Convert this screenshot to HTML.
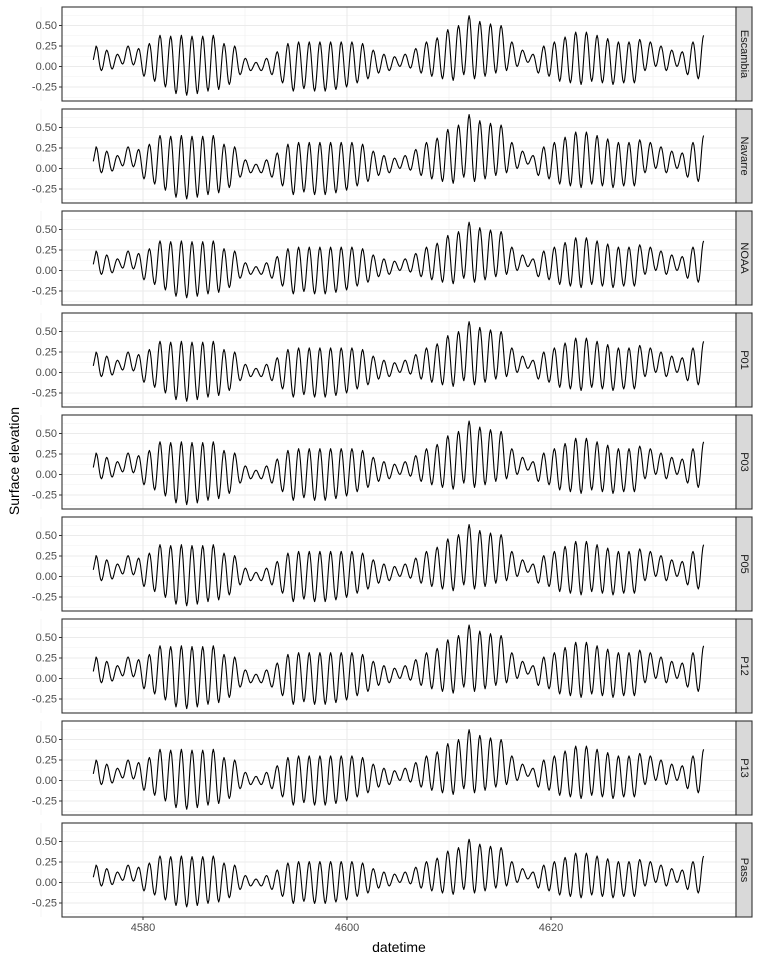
<!DOCTYPE html>
<html><head><meta charset="utf-8">
<style>
html,body{margin:0;padding:0;background:#fff;}
svg{display:block;font-family:"Liberation Sans",Arial,sans-serif;}
</style></head>
<body>
<svg id="chart" width="768" height="960" viewBox="0 0 768 960"></svg>
<script>
const stations = ["Escambia","Navarre","NOAA","P01","P03","P05","P12","P13","Pass"];
const stationScale = [1.0,1.06,0.95,1.0,1.05,1.02,1.05,1.0,0.85];
const cycleStart = 4575.4;
const cyclePeriod = 1.045;
const highs = [0.25,0.2,0.15,0.25,0.22,0.28,0.38,0.37,0.38,0.37,0.37,0.38,0.28,0.25,0.1,0.05,0.1,0.18,0.28,0.3,0.3,0.3,0.3,0.3,0.3,0.28,0.2,0.15,0.12,0.15,0.22,0.3,0.35,0.45,0.5,0.62,0.55,0.52,0.5,0.3,0.2,0.15,0.25,0.3,0.36,0.42,0.42,0.38,0.34,0.3,0.3,0.33,0.3,0.25,0.2,0.18,0.3,0.38];
const lows = [-0.05,-0.03,0.03,0.02,-0.12,-0.18,-0.25,-0.33,-0.35,-0.33,-0.3,-0.28,-0.22,-0.1,-0.05,-0.05,-0.1,-0.2,-0.3,-0.27,-0.3,-0.3,-0.28,-0.25,-0.2,-0.15,-0.08,-0.05,0,-0.02,-0.08,-0.12,-0.15,-0.17,-0.1,-0.15,-0.12,-0.08,-0.05,0,0.05,-0.08,-0.12,-0.18,-0.2,-0.22,-0.18,-0.2,-0.22,-0.2,-0.2,-0.05,0,-0.05,0,-0.1,-0.15];
const xTicks = [4580,4600,4620];
const xMinor = [4570,4590,4610,4630];
const yTicks = [-0.25,0,0.25,0.5];
const yTickLabels = ["-0.25","0.00","0.25","0.50"];
const yMinor = [-0.375,-0.125,0.125,0.375,0.625];

const NS="http://www.w3.org/2000/svg";
const svg=document.getElementById('chart');
const L=62,R=736,PH=94,TOP0=7,STEP=102;
function xs(d){return 143+(d-4580)*10.2;}
function ys(v,i){return TOP0+STEP*i+59.5-v*82;}
function mk(tag,attrs,parent){const e=document.createElementNS(NS,tag);for(const k in attrs)e.setAttribute(k,attrs[k]);(parent||svg).appendChild(e);return e;}

stations.forEach((st,i)=>{
  const top=TOP0+STEP*i;
  const g=mk('g',{});
  
  
  mk('rect',{x:L,y:top,width:R-L,height:PH,fill:'#fff'},g);
  yMinor.forEach(v=>{const y=ys(v,i);if(y>top&&y<top+PH)mk('line',{x1:L,x2:R,y1:y,y2:y,stroke:'#f0f0f0','stroke-width':0.6},g);});
  xMinor.forEach(d=>mk('line',{x1:xs(d),x2:xs(d),y1:top,y2:top+PH,stroke:'#f0f0f0','stroke-width':0.6},g));
  yTicks.forEach((v,k)=>{const y=ys(v,i);
    mk('line',{x1:L,x2:R,y1:y,y2:y,stroke:'#ebebeb','stroke-width':1.1},g);
    mk('line',{x1:L-3,x2:L,y1:y,y2:y,stroke:'#333','stroke-width':1},g);
    const t=mk('text',{x:L-5,y:y+3.5,'text-anchor':'end','font-size':11,fill:'#4d4d4d'},g);
    t.textContent=yTickLabels[k];
    
    
  });
  xTicks.forEach(d=>mk('line',{x1:xs(d),x2:xs(d),y1:top,y2:top+PH,stroke:'#ebebeb','stroke-width':1.1},g));
  const s=stationScale[i];
  let pts=[];
  for(let c=0;c<highs.length;c++){
    const tH=cycleStart+c*cyclePeriod;
    const h=highs[c]*s;
    if(c===0){const l0=lows[0]*s;pts.push([tH-0.5*cyclePeriod+0.25,(l0+h)/2-0.02]);}
    const l=c<lows.length?lows[c]*s:null;
    const steps=6;
    for(let k=0;k<steps;k++){
      const f=k/steps;
      if(l===null){ if(k>0)break; }
      const v=l===null?h:(h+l)/2+(h-l)/2*Math.cos(Math.PI*f);
      pts.push([tH+f*cyclePeriod/2,v]);
    }
    if(l!==null){
      const hn=c+1<highs.length?highs[c+1]*s:h;
      for(let k=0;k<steps;k++){
        const f=k/steps;
        const v=(hn+l)/2-(hn-l)/2*Math.cos(Math.PI*f);
        pts.push([tH+cyclePeriod/2+f*cyclePeriod/2,v]);
      }
    }
  }
  const path=mk('polyline',{points:pts.map(p=>xs(p[0]).toFixed(1)+','+ys(p[1],i).toFixed(1)).join(' '),fill:'none',stroke:'#000','stroke-width':1.1,'stroke-linejoin':'round'},g);
  
  
  mk('rect',{x:L,y:top,width:R-L,height:PH,fill:'none',stroke:'#333','stroke-width':1.1},g);
  const strip=mk('rect',{x:R,y:top,width:16,height:PH,fill:'#d9d9d9',stroke:'#333','stroke-width':1.1},g);
  
  
  const cx=R+8,cy=top+PH/2;
  const lab=mk('text',{x:cx,y:cy,'text-anchor':'middle','dominant-baseline':'central','font-size':11,fill:'#1a1a1a',transform:`rotate(90 ${cx} ${cy})`},g);
  lab.textContent=st;
  
  
});
const bottom=TOP0+STEP*8+PH;
xTicks.forEach(d=>{
  mk('line',{x1:xs(d),x2:xs(d),y1:bottom,y2:bottom+3,stroke:'#333','stroke-width':1});
  const t=mk('text',{x:xs(d),y:bottom+14,'text-anchor':'middle','font-size':11,fill:'#4d4d4d'});
  t.textContent=d;
  
  
});
const xt=mk('text',{x:(L+R)/2,y:952,'text-anchor':'middle','font-size':14,fill:'#000'});
xt.textContent='datetime';


const yt=mk('text',{x:19,y:461,'text-anchor':'middle','font-size':14,fill:'#000',transform:'rotate(-90 19 461)'});
yt.textContent='Surface elevation';


</script>
</body></html>
